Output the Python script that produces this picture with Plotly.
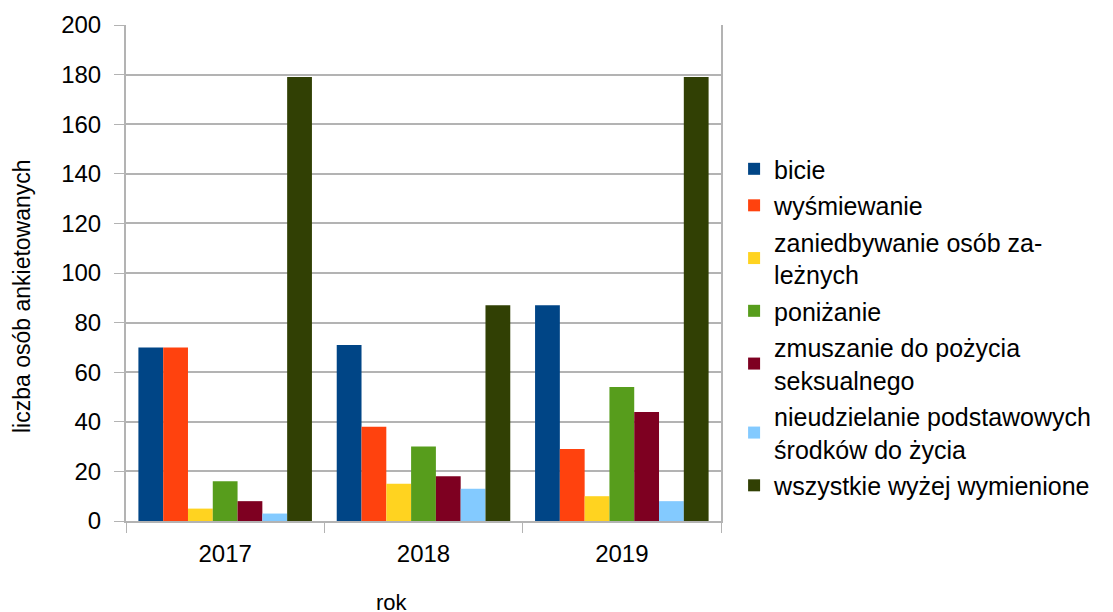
import plotly.graph_objects as go

years = ["2017", "2018", "2019"]

series_names = [
    "bicie",
    "wyśmiewanie",
    "zaniedbywanie osób za-<br>leżnych",
    "poniżanie",
    "zmuszanie do pożycia<br>seksualnego",
    "nieudzielanie podstawowych<br>środków do życia",
    "wszystkie wyżej wymienione",
]

bicie = [70, 71, 87]
wysmiewanie = [70, 38, 29]
zaniedbywanie = [5, 15, 10]
ponizanie = [16, 30, 54]
zmuszanie = [8, 18, 44]
nieudzielanie = [3, 13, 8]
wszystkie = [179, 87, 179]

colors = ["#004586", "#ff420e", "#ffd320", "#579d1c", "#7e0021", "#83caff", "#314004"]

values = [bicie, wysmiewanie, zaniedbywanie, ponizanie, zmuszanie, nieudzielanie, wszystkie]

fig = go.Figure()
for i, (name, vals) in enumerate(zip(series_names, values)):
    fig.add_trace(
        go.Bar(
            x=years,
            y=vals,
            name=name,
            marker_color=colors[i],
            marker_line_width=0,
            legendgroup=str(i),
        )
    )

# page body adds ~8px offset, so the figure is drawn 8px smaller
# plot area on screen: x 126..721, y 26..522
fig.update_layout(
    width=1105,
    height=604,
    margin=dict(l=118, r=392, t=17, b=91),
    paper_bgcolor="white",
    plot_bgcolor="white",
    font=dict(family="Liberation Sans, Arial, sans-serif", size=24, color="black"),
    barmode="group",
    bargap=0.125,
    bargroupgap=0,
    showlegend=True,
    legend=dict(
        x=1.022,
        xanchor="left",
        y=0.391,
        yanchor="middle",
        font=dict(size=25),
        traceorder="grouped",
        tracegroupgap=1,
        itemwidth=30,
    ),
)

fig.update_xaxes(
    type="category",
    tickson="boundaries",
    ticks="outside",
    ticklen=10,
    tickcolor="#b3b3b3",
    ticklabelstandoff=10,
    showline=True,
    linecolor="#b3b3b3",
    linewidth=2,
    showgrid=False,
    automargin=False,
    tickfont=dict(size=24),
)

fig.update_yaxes(
    range=[0, 200],
    dtick=20,
    ticks="outside",
    ticklen=10,
    tickcolor="#b3b3b3",
    ticklabelstandoff=8,
    showline=True,
    mirror=True,
    linecolor="#b3b3b3",
    linewidth=2,
    showgrid=True,
    gridcolor="#b3b3b3",
    gridwidth=1.5,
    zeroline=False,
    automargin=False,
    tickfont=dict(size=24),
)

fig.add_annotation(
    text="liczba osób ankietowanych",
    xref="paper",
    yref="paper",
    x=(22 - 126) / 595,
    y=(522 - 297) / 496,
    xanchor="center",
    yanchor="middle",
    textangle=-90,
    showarrow=False,
    font=dict(size=23),
)

fig.add_annotation(
    text="rok",
    xref="paper",
    yref="paper",
    x=(392 - 126) / 595,
    y=(522 - 603) / 496,
    xanchor="center",
    yanchor="middle",
    showarrow=False,
    font=dict(size=22),
)

fig.write_html("out.html")
